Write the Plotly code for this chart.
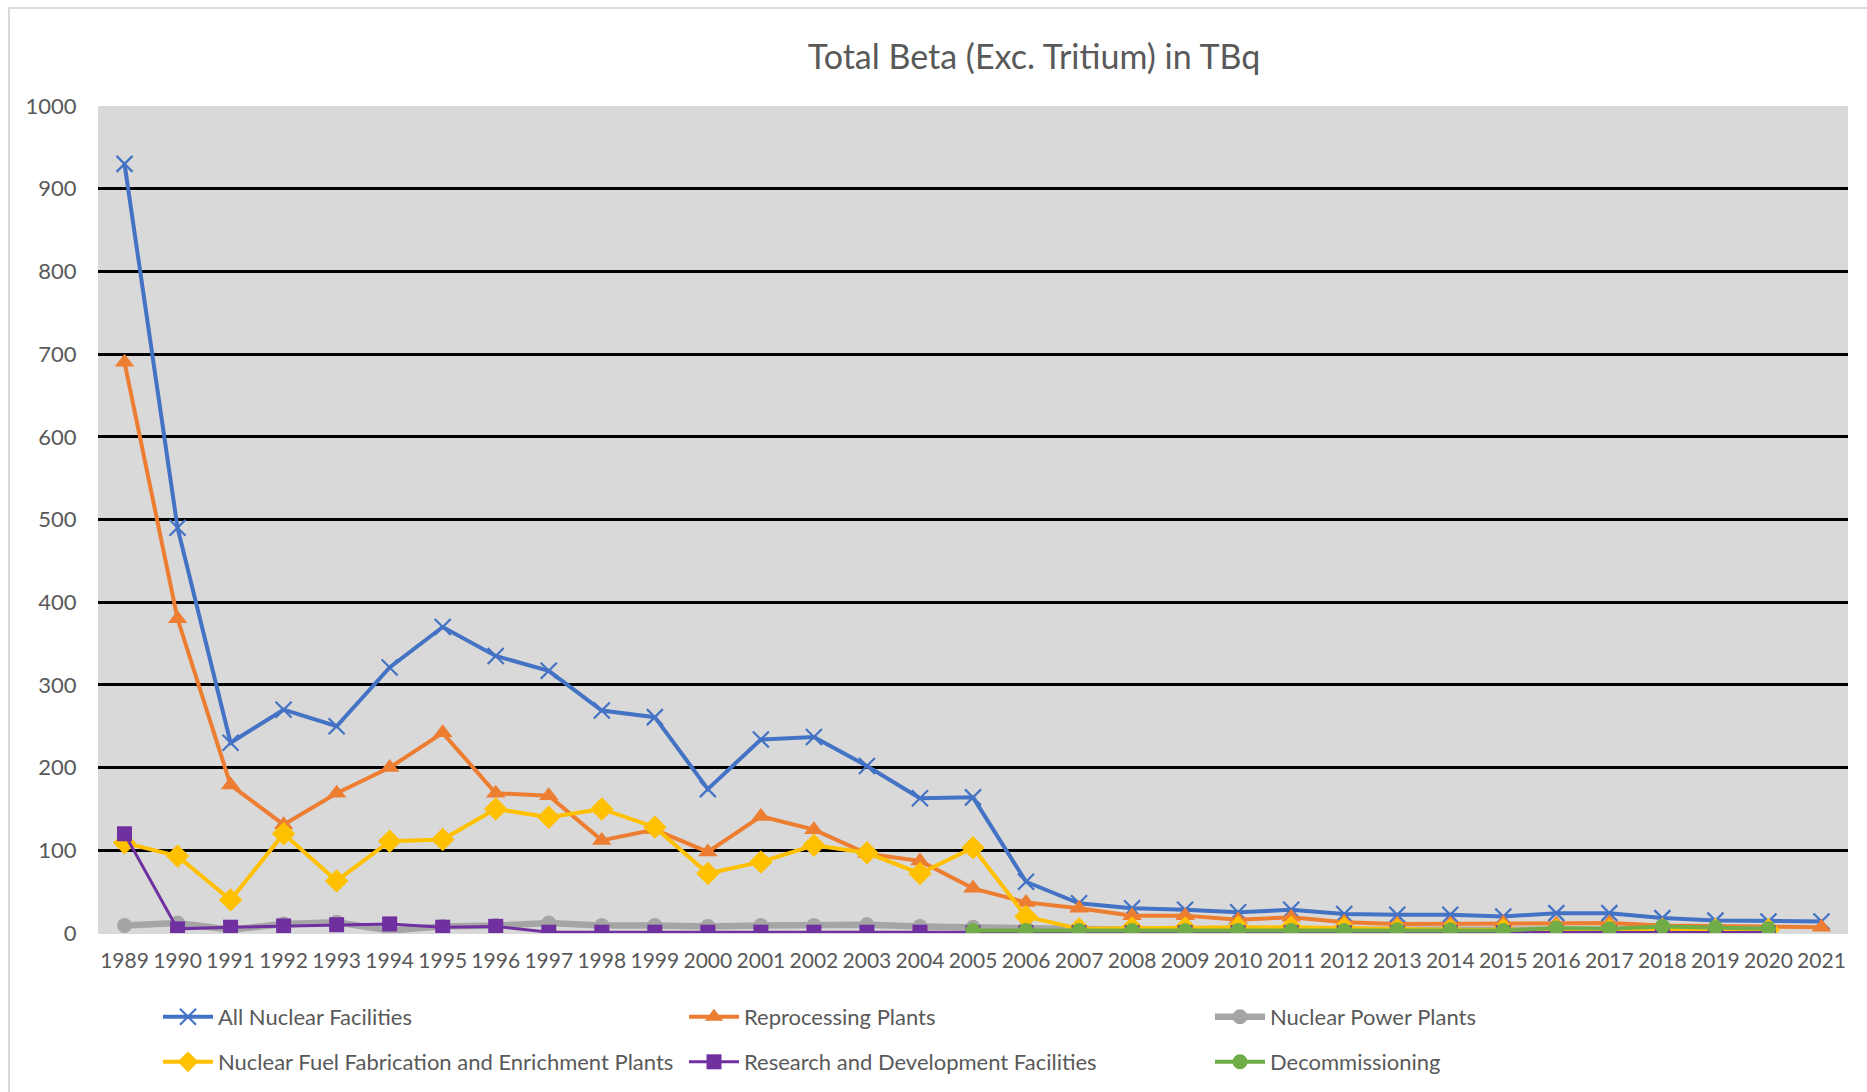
import plotly.graph_objects as go

years = [str(y) for y in range(1989, 2022)]

all_nuclear = [930, 490, 230, 270, 250, 321, 370, 335, 317, 269, 261, 174, 234, 237, 202, 163,
               164, 62, 36, 30, 28, 25, 28, 23, 22, 22, 20, 24, 24, 18, 15, 14, 14]
reprocessing = [690, 380, 179, 131, 169, 200, 242, 169, 166, 112, 125, 98, 141, 125, 96, 87,
                54, 37, 30, 21, 21, 16, 19, 13, 11, 11, 12, 11, 12, 9, 8, 8, 7]
power_plants = [9, 12, 4, 11, 13, 3, 8, 9, 12, 9, 9, 8, 9, 9, 10, 8,
                7, 6, 4, 4, 4, 4, 4, 4, 4, 4, 4, 4, 4, 4, 4, 4, None]
fuel_fab = [109, 93, 40, 120, 63, 111, 113, 150, 140, 150, 128, 72, 86, 106, 97, 72,
            103, 20, 5, 6, 6, 7, 7, 6, 4, 4, 4, 4, 4, 4, 4, 4, None]
research = [120, 5, 7, 8.5, 10, 11, 7, 8, 1, 1, 1, 1, 1, 1, 1, 1,
            0.5, 0.5, 0.5, 0.5, 0.5, 0.5, 0.5, 0.5, 0.5, 0.5, 0.5, 0.5, 0.5, 0.5, 0.5, 0.5, None]
decommissioning = [None] * 16 + [3, 3, 3, 3, 3, 3, 3, 3, 4, 4, 3, 6, 5, 8, 6.5, 5, None]

y_ticks = [0, 100, 200, 300, 400, 500, 600, 700, 800, 900, 1000]

FONT = "Lato"
TXT = "#595959"

series = [
    ("All Nuclear Facilities", all_nuclear, "#4472C4", 4, dict(symbol="x-thin-open", size=16, line=dict(width=2.2, color="#4472C4")), "legend"),
    ("Reprocessing Plants", reprocessing, "#ED7D31", 4, dict(symbol="triangle-up", size=17), "legend"),
    ("Nuclear Power Plants", power_plants, "#A5A5A5", 6.5, dict(symbol="circle", size=15), "legend"),
    ("Nuclear Fuel Fabrication and Enrichment Plants", fuel_fab, "#FFC000", 4, dict(symbol="diamond", size=18), "legend2"),
    ("Research and Development Facilities", research, "#7030A0", 3, dict(symbol="square", size=15), "legend2"),
    ("Decommissioning", decommissioning, "#70AD47", 4, dict(symbol="circle", size=15), "legend2"),
]

fig = go.Figure()
for name, vals, color, lw, mk, lg in series:
    mk = dict(mk)
    mk["color"] = color
    fig.add_trace(go.Scatter(
        x=years, y=vals, name=name, mode="lines+markers",
        line=dict(color=color, width=lw), marker=mk, legend=lg,
    ))

legend_common = dict(
    orientation="h", xref="container", yref="container",
    xanchor="left", yanchor="middle",
    font=dict(family=FONT, size=22, color=TXT),
    itemwidth=50, entrywidth=461, bgcolor="rgba(0,0,0,0)",
    itemclick=False, itemdoubleclick=False,
)

fig.update_layout(
    width=1867, height=1092,
    margin=dict(l=98, r=19, t=106, b=159, pad=0, autoexpand=False),
    paper_bgcolor="white", plot_bgcolor="#D9D9D9",
    font=dict(family=FONT, size=22, color=TXT),
    title=dict(text="Total Beta (Exc. Tritium) in TBq", x=1034 / 1867, xanchor="center",
               xref="container", y=1 - 57 / 1092, yanchor="middle", yref="container",
               font=dict(family=FONT, size=34, color=TXT)),
    legend=dict(legend_common, x=158 / 1867, y=1 - 1017 / 1092),
    legend2=dict(legend_common, x=158 / 1867, y=1 - 1062 / 1092),
    xaxis=dict(type="category", range=[-0.5, len(years) - 0.5], showgrid=False,
               showline=False, zeroline=False, ticks="outside", ticklen=9,
               tickangle=0, automargin=False,
               tickcolor="rgba(0,0,0,0)", tickfont=dict(family=FONT, size=21, color=TXT)),
    yaxis=dict(range=[0, 1000], tickvals=y_ticks, showgrid=True, gridcolor="black",
               gridwidth=2.5, zeroline=True, zerolinecolor="#D9D9D9", zerolinewidth=1,
               showline=False, ticks="outside", ticklen=16, tickcolor="rgba(0,0,0,0)",
               automargin=False,
               tickfont=dict(family=FONT, size=22, color=TXT)),
)

# outer chart border (light gray), as in the reference
fig.add_shape(type="rect", xref="paper", yref="paper",
              x0=-89 / 1750, x1=1.2, y0=-2, y1=1 + 98 / 826.7,
              line=dict(color="#D9D9D9", width=2), fillcolor="rgba(0,0,0,0)", layer="below")

fig.write_html("out.html", config={"displayModeBar": False},
               post_script="document.body.style.margin='0px';")
